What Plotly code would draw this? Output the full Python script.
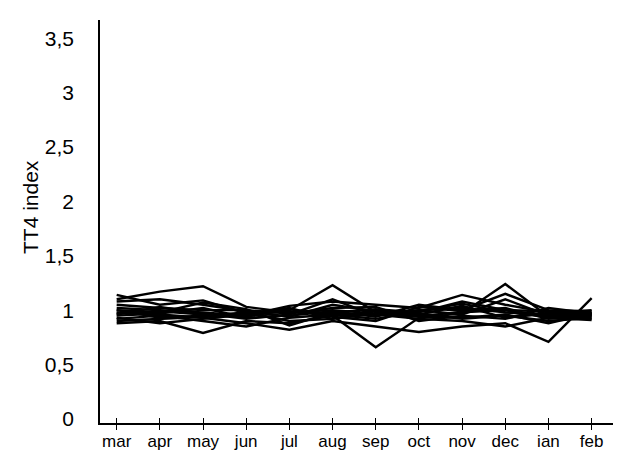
import plotly.graph_objects as go

months = ["mar", "apr", "may", "jun", "jul", "aug", "sep", "oct", "nov", "dec", "ian", "feb"]
y_tick_vals = [0, 0.5, 1, 1.5, 2, 2.5, 3, 3.5]
y_tick_text = ["0", "0,5", "1", "1,5", "2", "2,5", "3", "3,5"]

s1 = [1.10, 1.17, 1.22, 1.03, 0.98, 1.00, 0.97, 1.00, 1.02, 0.98, 0.95, 0.97]
s2 = [1.14, 1.05, 1.09, 0.97, 1.00, 1.23, 0.98, 0.95, 0.98, 1.00, 0.93, 0.96]
s3 = [0.88, 0.90, 0.79, 0.90, 0.88, 0.95, 0.66, 0.93, 0.97, 1.24, 0.94, 0.98]
s4 = [0.98, 0.96, 0.93, 0.88, 0.82, 0.90, 0.85, 0.80, 0.85, 0.88, 0.71, 1.11]
s5 = [1.02, 1.00, 0.98, 0.95, 1.04, 1.08, 1.05, 1.02, 1.14, 1.05, 0.98, 0.95]
s6 = [0.95, 0.97, 1.02, 0.93, 0.95, 0.99, 0.94, 1.05, 1.00, 1.15, 1.00, 0.99]
s7 = [1.00, 0.93, 0.95, 0.98, 0.90, 0.92, 1.00, 0.97, 0.92, 0.95, 0.90, 0.93]
s8 = [0.92, 0.95, 0.90, 0.85, 0.93, 0.96, 0.92, 0.99, 1.06, 0.98, 0.96, 0.92]
s9 = [1.05, 1.02, 1.00, 1.00, 0.97, 1.02, 1.03, 0.90, 0.95, 0.92, 1.02, 0.97]
s10 = [0.97, 0.99, 0.96, 0.94, 1.01, 0.94, 0.90, 1.03, 0.99, 1.02, 0.92, 0.95]
s11 = [1.08, 1.10, 1.05, 0.99, 0.94, 1.05, 0.99, 0.96, 1.04, 0.93, 0.97, 1.00]
s12 = [0.93, 0.88, 0.92, 0.96, 0.99, 0.97, 0.96, 0.92, 0.90, 0.85, 0.93, 0.91]
s13 = [1.00, 0.98, 1.07, 1.01, 0.86, 0.98, 1.01, 0.98, 1.08, 1.00, 0.99, 0.96]
s14 = [0.96, 1.03, 0.97, 0.92, 0.96, 1.10, 0.95, 1.00, 0.96, 1.10, 0.95, 0.94]
s15 = [0.90, 0.92, 0.94, 0.97, 1.02, 0.92, 0.97, 0.94, 0.93, 0.96, 0.88, 0.97]

series = [s1, s2, s3, s4, s5, s6, s7, s8, s9, s10, s11, s12, s13, s14, s15]
xidx = list(range(len(months)))

fig = go.Figure()
for s in series:
    fig.add_trace(go.Scatter(x=xidx, y=s, mode="lines",
                             line=dict(color="black", width=2.4), showlegend=False,
                             hoverinfo="skip"))

font_family = "Arial, Liberation Sans, sans-serif"
xrange = [-0.386, 11.68]

# page body adds an 8px offset, so the figure is 8px smaller
fig.update_layout(
    width=613, height=450,
    margin=dict(l=92, r=0, t=12, b=35),
    paper_bgcolor="white", plot_bgcolor="white",
    font=dict(family=font_family, color="black"),
    xaxis=dict(range=xrange, tickvals=xidx, ticktext=months,
               showgrid=False, zeroline=False, showline=True, linecolor="black",
               linewidth=1.5, ticks="outside", ticklen=5, tickwidth=1.2,
               tickcolor="black", tickfont=dict(size=17, color="black"),
               ticklabelstandoff=-3),
    xaxis2=dict(range=xrange, tickvals=xidx, overlaying="x", anchor="y",
                side="bottom", showticklabels=False, showgrid=False, zeroline=False,
                showline=False, ticks="inside", ticklen=5, tickwidth=1.2,
                tickcolor="black"),
    yaxis=dict(range=[-0.037, 3.667], tickvals=y_tick_vals, ticktext=y_tick_text,
               showgrid=False, zeroline=False, showline=True, linecolor="black",
               linewidth=1.5, ticks="", tickfont=dict(size=21, color="black"),
               ticklabelstandoff=20),
)
fig.add_trace(go.Scatter(x=[xidx[0]], y=[None], xaxis="x2", yaxis="y",
                         showlegend=False, hoverinfo="skip"))
fig.add_annotation(text="TT4 index", xref="paper", yref="paper",
                   x=(30 - 100) / 521, y=(423 - 207) / 403, textangle=-90,
                   showarrow=False, font=dict(size=21, family=font_family, color="black"),
                   xanchor="center", yanchor="middle")

fig.write_html("out.html")
